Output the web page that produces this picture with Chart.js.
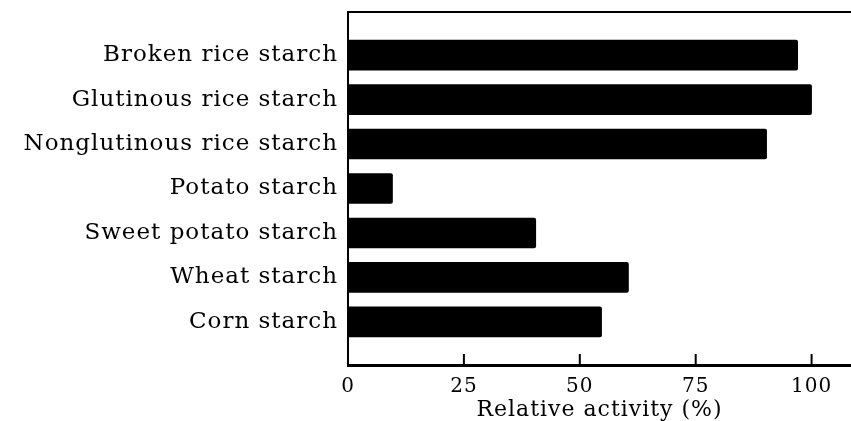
<!DOCTYPE html>
<html>
<head>
<meta charset="utf-8">
<script src="https://cdn.jsdelivr.net/npm/chart.js@4"></script>
<style>
  body { margin: 0; background: #fff; }
</style>
</head>
<body>
<canvas id="starchChart" width="851" height="421"></canvas>
<script>
// Data
const starches = ['Broken rice starch', 'Glutinous rice starch', 'Nonglutinous rice starch',
    'Potato starch', 'Sweet potato starch', 'Wheat starch', 'Corn starch'];
const activity = [97, 100, 90.3, 9.6, 40.5, 60.5, 54.7];
const xTicks = [0, 25, 50, 75, 100];

const ctx = document.getElementById('starchChart').getContext('2d');
const serif = "'DejaVu Serif', 'Liberation Serif', serif";

// wider letter spacing, like the old typeset figure
const spacing = {
    id: 'spacing',
    beforeDraw(chart) { chart.ctx.letterSpacing = '1px'; },
    afterDraw(chart) { chart.ctx.letterSpacing = '0px'; }
};

// small tick marks pointing up into the plot, plus the top frame line
const innerTicks = {
    id: 'innerTicks',
    afterDraw(chart) {
        const c = chart.ctx;
        const area = chart.chartArea;
        const x = chart.scales.x;
        c.save();
        c.strokeStyle = '#000';
        c.lineWidth = 2;
        c.beginPath();
        c.moveTo(area.left - 1, area.top);
        c.lineTo(area.right, area.top);
        xTicks.forEach(t => {
            if (t === 0) return;
            const px = x.getPixelForValue(t);
            c.moveTo(px, area.bottom);
            c.lineTo(px, area.bottom - 11);
        });
        c.stroke();
        c.restore();
    }
};

const config = {
    type: 'bar',
    data: {
        datasets: [{
            data: activity.map((v, i) => ({ x: v, y: i })),
            backgroundColor: '#000',
            borderRadius: 2,
            borderSkipped: 'start',
            barThickness: 30
        }]
    },
    options: {
        indexAxis: 'y',
        responsive: false,
        animation: false,
        layout: { padding: { top: 12, right: 0, bottom: 0, left: 0 } },
        plugins: {
            legend: { display: false },
            tooltip: { enabled: false }
        },
        scales: {
            x: {
                type: 'linear',
                min: 0,
                max: 108.5,
                afterBuildTicks: scale => { scale.ticks = xTicks.map(v => ({ value: v })); },
                afterFit: scale => {
                    scale.height = 56;
                    scale.paddingLeft = 0;
                    scale.paddingRight = 0;
                },
                grid: { display: false, drawTicks: false },
                border: { display: true, color: '#000', width: 3 },
                ticks: {
                    color: '#000',
                    font: { family: serif, size: 20 },
                    padding: 10,
                    maxRotation: 0
                },
                title: {
                    display: true,
                    text: 'Relative activity (%)',
                    color: '#000',
                    font: { family: serif, size: 22, lineHeight: 1 },
                    padding: { top: 0, bottom: 0 }
                }
            },
            y: {
                type: 'linear',
                reverse: true,
                offset: false,
                min: -0.97,
                max: 6.97,
                afterBuildTicks: scale => { scale.ticks = starches.map((_, i) => ({ value: i })); },
                afterFit: scale => {
                    scale.width = 348;
                    scale.paddingTop = 0;
                    scale.paddingBottom = 0;
                },
                grid: { display: false, drawTicks: false },
                border: { display: true, color: '#000', width: 2 },
                ticks: {
                    color: '#000',
                    font: { family: serif, size: 23 },
                    padding: 10,
                    callback: v => starches[v]
                }
            }
        }
    },
    plugins: [spacing, innerTicks]
};

const starchChart = new Chart(ctx, config);
</script>
</body>
</html>
